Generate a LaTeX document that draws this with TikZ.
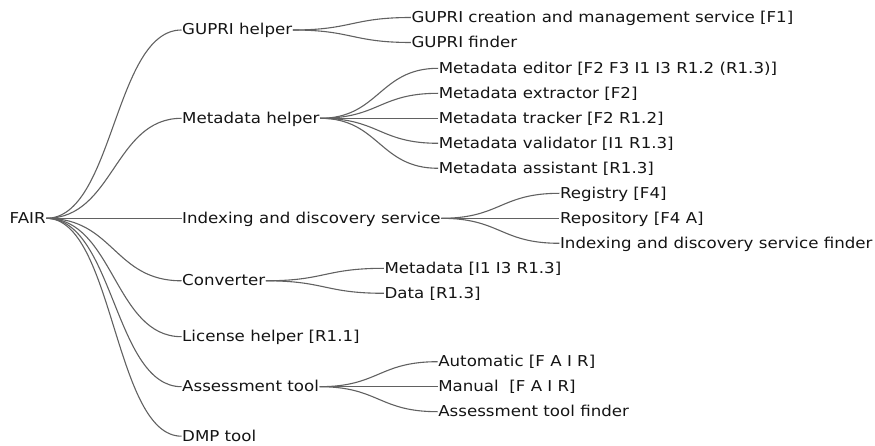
\documentclass[tikz,border=0pt]{standalone}
\usepackage{fontspec}
\setmainfont{DejaVu Sans}[FakeStretch=1.11]
\usetikzlibrary{positioning, calc}

\begin{document}
\begin{tikzpicture}[
        x=1pt, y=-1pt,
        lbl/.style={anchor=west, inner xsep=0.5pt, inner ysep=0pt,
                    text height=10pt, text depth=0pt, text=black!92,
                    font=\fontsize{15}{15}\selectfont},
        kid/.style={lbl, right=118pt of #1.east},
        link/.style={draw=black!62, line width=1.1pt,
                     to path={let \p1=(\tikztostart), \p2=(\tikztotarget),
                              \n1={(\x1+\x2)/2} in
                              .. controls (\n1,\y1) and (\n1,\y2) .. (\tikztotarget)}},
    ]
    \useasboundingbox (0,0) rectangle (875,446);

    % Root
    \node[lbl] (fair) at (9, 218.3) {FAIR};

    % First level
    \node[lbl] (gupri)  at (181.5, 30)    {GUPRI helper};
    \node[lbl] (meta)   at (181.5, 118.3) {Metadata helper};
    \node[lbl] (index)  at (181.5, 218.3) {Indexing and discovery service};
    \node[lbl] (conv)   at (181.5, 280.8) {Converter};
    \node[lbl] (lic)    at (181.5, 336.7) {License helper [R1.1]};
    \node[lbl] (assess) at (181.5, 386.7) {Assessment tool};
    \node[lbl] (dmp)    at (181.5, 436.2) {DMP tool};

    % Second level
    \node[kid=gupri, yshift=12.5pt]  (gcreate) {GUPRI creation and management service [F1]};
    \node[kid=gupri, yshift=-12.5pt] (gfind)   {GUPRI finder};

    \node[kid=meta, yshift=50pt]  (medit)    {Metadata editor [F2 F3 I1 I3 R1.2 (R1.3)]};
    \node[kid=meta, yshift=25pt]  (mextract) {Metadata extractor [F2]};
    \node[kid=meta]               (mtrack)   {Metadata tracker [F2 R1.2]};
    \node[kid=meta, yshift=-25pt] (mvalid)   {Metadata validator [I1 R1.3]};
    \node[kid=meta, yshift=-50pt] (massist)  {Metadata assistant [R1.3]};

    \node[kid=index, yshift=25pt]  (iregistry) {Registry [F4]};
    \node[kid=index]               (irepo)     {Repository [F4 A]};
    \node[kid=index, yshift=-25pt] (ifind)     {Indexing and discovery service finder};

    \node[kid=conv, yshift=12.5pt]  (cmeta) {Metadata [I1 I3 R1.3]};
    \node[kid=conv, yshift=-12.5pt] (cdata) {Data [R1.3]};

    \node[kid=assess, yshift=25pt]  (aauto)   {Automatic [F A I R]};
    \node[kid=assess]               (amanual) {Manual\ \ [F A I R]};
    \node[kid=assess, yshift=-25pt] (afind)   {Assessment tool finder};

    % Links
    \foreach \c in {gupri, meta, index, conv, lic, assess, dmp} {
        \draw[link] (fair.east) to (\c.west);
    }
    \foreach \p/\c in {gupri/gcreate, gupri/gfind,
                       meta/medit, meta/mextract, meta/mtrack, meta/mvalid, meta/massist,
                       index/iregistry, index/irepo, index/ifind,
                       conv/cmeta, conv/cdata,
                       assess/aauto, assess/amanual, assess/afind} {
        \draw[link] (\p.east) to (\c.west);
    }
\end{tikzpicture}
\end{document}
